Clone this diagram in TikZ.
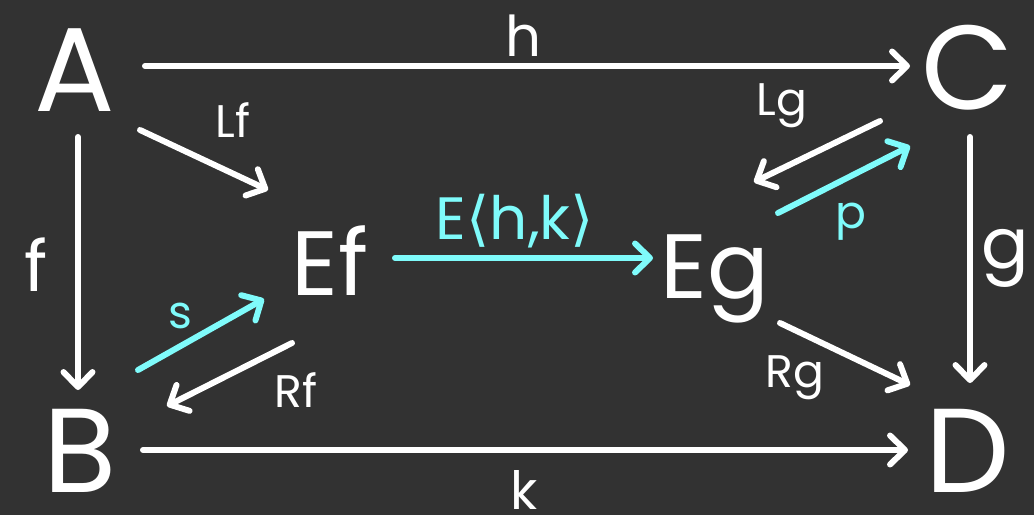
\documentclass[tikz,border=0pt]{standalone}
\usepackage{fontspec}
\setmainfont{Poppins}
\newfontfamily\symfont{DejaVu Sans}
\usetikzlibrary{arrows.meta}
\definecolor{bg}{HTML}{323232}
\definecolor{cy}{HTML}{7FFBFB}
\begin{document}
\begin{tikzpicture}[x=0.02cm,y=-0.02cm,
  obj/.style={text=white,inner sep=0pt,font=\fontsize{68}{68}\selectfont},
  mid/.style={text=white,inner sep=0pt,font=\fontsize{52}{52}\selectfont},
  lbl/.style={text=white,inner sep=0pt,font=\fontsize{26}{26}\selectfont},
  arr/.style={draw=white,line width=3.4pt,line cap=round,
    -{Straight Barb[length=0.3cm,width=0.58cm,round]}},
  carr/.style={arr,draw=cy}]
\fill[bg] (0,0) rectangle (1034,515);
\node[obj] (A) at (75,70) {A};
\node[obj] (C) at (968,68) {C};
\node[obj] (B) at (80,451) {B};
\node[obj] (D) at (968,451) {D};
\node[mid,anchor=base] (Ef) at (330,295) {Ef};
\node[mid,anchor=base] (Eg) at (715,298) {Eg};
% arrow end points
\coordinate (h1) at (145,66); \coordinate (h2) at (910,66);
\coordinate (f1) at (78,137); \coordinate (f2) at (78,390);
\coordinate (g1) at (970,137); \coordinate (g2) at (970,383);
\coordinate (k1) at (143,450); \coordinate (k2) at (908,450);
\coordinate (Lf1) at (140,130); \coordinate (Lf2) at (268,190);
\coordinate (E1) at (395,258); \coordinate (E2) at (653,258);
\coordinate (s1) at (138,370); \coordinate (s2) at (264,299);
\coordinate (Rf1) at (292,343); \coordinate (Rf2) at (167,406);
\coordinate (Lg1) at (880,121); \coordinate (Lg2) at (754,182);
\coordinate (p1) at (778,213); \coordinate (p2) at (910,146);
\coordinate (Rg1) at (780,323); \coordinate (Rg2) at (910,385);
\draw[arr] (h1) -- (h2);
\draw[arr] (f1) -- (f2);
\draw[arr] (g1) -- (g2);
\draw[arr] (k1) -- (k2);
\draw[arr] (Lf1) -- (Lf2);
\draw[carr] (E1) -- (E2);
\draw[carr] (s1) -- (s2);
\draw[arr] (Rf1) -- (Rf2);
\draw[arr] (Lg1) -- (Lg2);
\draw[carr] (p1) -- (p2);
\draw[arr] (Rg1) -- (Rg2);
% labels
\node[lbl,font=\fontsize{32}{32}\selectfont] (lh) at (523,36) {h};
\node[lbl,font=\fontsize{40}{40}\selectfont] (lf) at (36,265) {f};
\node[lbl,font=\fontsize{40}{40}\selectfont] (lg) at (1005,258) {g};
\node[lbl,font=\fontsize{30}{30}\selectfont] (lk) at (524,490) {k};
\node[lbl] (lLf) at (233,120) {Lf};
\node[lbl,text=cy,font=\fontsize{34}{34}\selectfont] (lE) at (515,221) {E{\symfont⟨}h,k{\symfont⟩}};
\node[lbl,text=cy] (ls) at (180,316) {s};
\node[lbl] (lRf) at (296,390) {Rf};
\node[lbl] (lLg) at (782,106) {Lg};
\node[lbl,text=cy] (lp) at (851,222) {p};
\node[lbl] (lRg) at (795,378) {Rg};
\end{tikzpicture}
\end{document}
